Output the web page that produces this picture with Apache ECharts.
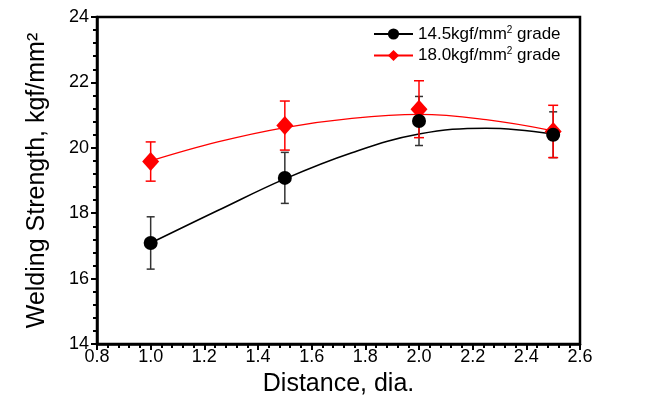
<!DOCTYPE html>
<html>
<head>
<meta charset="utf-8">
<script src="https://cdn.jsdelivr.net/npm/echarts@6/dist/echarts.min.js"></script>
<style>
  html, body { margin: 0; padding: 0; background: #fff; }
  #chart { width: 645px; height: 405px; }
</style>
</head>
<body>
<div id="chart"></div>
<script>
// Measured welding strength vs. electrode distance
const distance = [1.0, 1.5, 2.0, 2.5];

const grade145Mean = [17.09, 19.08, 20.82, 20.40];
const grade145Err  = [0.80, 0.78, 0.75, 0.70];

const grade180Mean = [19.58, 20.68, 21.18, 20.50];
const grade180Err  = [0.60, 0.75, 0.87, 0.80];

// Fitted trend curves
const fitDistance = [1.0, 1.25, 1.5, 1.75, 2.0, 2.25, 2.5];
const grade145Fit = [17.09, 18.08, 19.05, 19.85, 20.42, 20.60, 20.42];
const grade180Fit = [19.60, 20.18, 20.62, 20.90, 21.02, 20.86, 20.52];

// Series names (the "2" of mm2 is set as a superscript in the legend)
const name145 = '14.5kgf/mm2 grade';
const name180 = '18.0kgf/mm2 grade';

const FONT = 'Liberation Sans, Arial, sans-serif';

function pairs(xs, ys) { return xs.map((x, i) => [x, ys[i]]); }
function bars(xs, ys, es) { return xs.map((x, i) => [x, ys[i] - es[i], ys[i] + es[i]]); }

function errorBarSeries(data, color, capHalf) {
  return {
    type: 'custom',
    silent: true,
    z: 3,
    data: data,
    renderItem: function (params, api) {
      const x = api.value(0);
      const lo = api.coord([x, api.value(1)]);
      const hi = api.coord([x, api.value(2)]);
      const style = { stroke: color, lineWidth: 1.5 };
      return {
        type: 'group',
        children: [
          { type: 'line', shape: { x1: lo[0], y1: lo[1], x2: hi[0], y2: hi[1] }, style: style },
          { type: 'line', shape: { x1: lo[0] - capHalf, y1: lo[1], x2: lo[0] + capHalf, y2: lo[1] }, style: style },
          { type: 'line', shape: { x1: hi[0] - capHalf, y1: hi[1], x2: hi[0] + capHalf, y2: hi[1] }, style: style }
        ]
      };
    }
  };
}

const chart = echarts.init(document.getElementById('chart'), null, { renderer: 'canvas' });

chart.setOption({
  animation: false,
  backgroundColor: '#ffffff',
  grid: {
    left: 97, right: 65, top: 17, bottom: 61,
    show: true, borderColor: '#000', borderWidth: 2.5, backgroundColor: 'transparent'
  },
  legend: {
    left: 368, top: 20,
    orient: 'vertical',
    itemWidth: 39, itemHeight: 14, itemGap: 4,
    data: [name145, name180],
    formatter: function (name) {
      const parts = name.split('mm2');
      return '{t|' + parts[0] + 'mm}{s|2}{t|' + parts[1] + '}';
    },
    textStyle: {
      fontFamily: FONT, color: '#000',
      rich: {
        t: { fontFamily: FONT, fontSize: 17, color: '#000', lineHeight: 18 },
        s: { fontFamily: FONT, fontSize: 10, color: '#000', verticalAlign: 'top', lineHeight: 18, padding: [0, 0, 6, 0] }
      }
    }
  },
  xAxis: {
    type: 'value',
    min: 0.8, max: 2.6, interval: 0.2,
    name: 'Distance, dia.',
    nameLocation: 'middle', nameGap: 28,
    nameTextStyle: { fontFamily: FONT, fontSize: 25, color: '#000' },
    axisLine: { show: true, lineStyle: { color: '#000', width: 2.5 } },
    axisTick: { show: true, inside: false, length: 6, lineStyle: { color: '#000', width: 2 } },
    minorTick: { show: true, splitNumber: 5, length: 4, lineStyle: { color: '#000', width: 2 } },
    splitLine: { show: false },
    axisLabel: {
      fontFamily: FONT, fontSize: 18, color: '#000', margin: 4,
      formatter: v => v.toFixed(1)
    }
  },
  yAxis: {
    type: 'value',
    min: 14, max: 24, interval: 2,
    name: 'Welding Strength, kgf/mm²',
    nameLocation: 'middle', nameGap: 47,
    nameTextStyle: { fontFamily: FONT, fontSize: 25, color: '#000' },
    axisLine: { show: true, lineStyle: { color: '#000', width: 2.5 } },
    axisTick: { show: true, inside: false, length: 6, lineStyle: { color: '#000', width: 2 } },
    minorTick: { show: true, splitNumber: 5, length: 4, lineStyle: { color: '#000', width: 2 } },
    splitLine: { show: false },
    axisLabel: { fontFamily: FONT, fontSize: 18, color: '#000', margin: 8 }
  },
  series: [
    {
      name: name145,
      type: 'line',
      smooth: 0.4,
      data: pairs(fitDistance, grade145Fit),
      showSymbol: false,
      symbol: 'circle', symbolSize: 14,
      lineStyle: { color: '#000', width: 1.6 },
      itemStyle: { color: '#000', opacity: 1 },
      z: 2
    },
    {
      name: name180,
      type: 'line',
      smooth: 0.4,
      data: pairs(fitDistance, grade180Fit),
      showSymbol: false,
      symbol: 'diamond', symbolSize: [17, 19],
      lineStyle: { color: '#ff0000', width: 1.3 },
      itemStyle: { color: '#ff0000', opacity: 1 },
      z: 2
    },
    errorBarSeries(bars(distance, grade145Mean, grade145Err), '#333333', 4),
    errorBarSeries(bars(distance, grade180Mean, grade180Err), '#ff0000', 5),
    {
      name: name180,
      type: 'scatter',
      data: pairs(distance, grade180Mean),
      symbol: 'diamond', symbolSize: [17, 19],
      itemStyle: { color: '#ff0000', opacity: 1 },
      z: 4
    },
    {
      name: name145,
      type: 'scatter',
      data: pairs(distance, grade145Mean),
      symbol: 'circle', symbolSize: 14,
      itemStyle: { color: '#000', opacity: 1 },
      z: 5
    }
  ]
});
</script>
</body>
</html>
